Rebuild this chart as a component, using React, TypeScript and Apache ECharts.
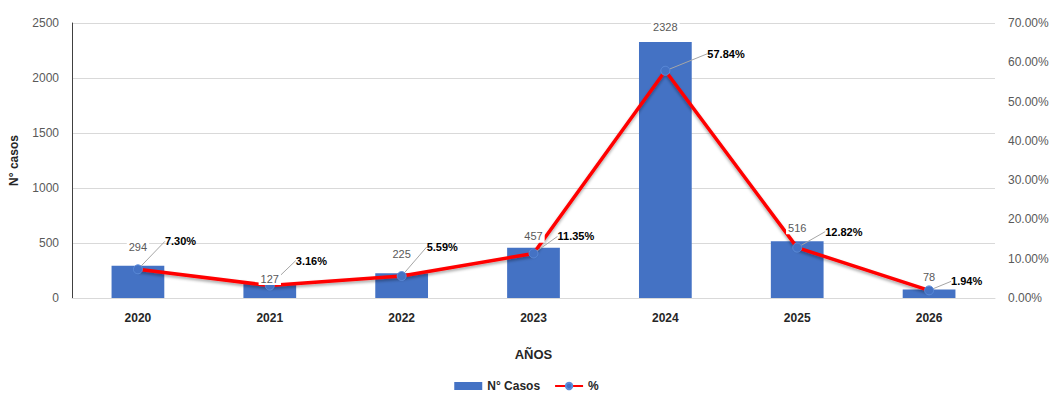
import React, { useEffect, useRef } from "react";
import * as echarts from "echarts";

const years = ["2020", "2021", "2022", "2023", "2024", "2025", "2026"];
const cases = [294, 127, 225, 457, 2328, 516, 78];
const percents = [7.3, 3.16, 5.59, 11.35, 57.84, 12.82, 1.94];
const leftTicks = { min: 0, max: 2500, interval: 500 };
const rightTicks = { min: 0, max: 70, interval: 10 };

// label nudges (style only)
const pctDx = [17, 16, 15, 14, 32, 18, 12];
const pctDy = [-28, -25, -29, -17, -17, -16, -9];
const barDy = [-7, 6, -8, 0, -3, -2, -1];

const FONT = "'Liberation Sans', 'Noto Sans', Arial, sans-serif";

export default function App() {
  const ref = useRef<HTMLDivElement>(null);
  useEffect(() => {
    if (!ref.current) return;
    const chart = echarts.init(ref.current, null, { renderer: "svg" });
    chart.setOption({
      animation: false,
      textStyle: { fontFamily: FONT },
      grid: { left: 70, right: 58, top: 23, bottom: 98, containLabel: false },
      legend: {
        data: [
          { name: "N° Casos", icon: "rect" },
          { name: "%" },
        ],
        top: 378,
        left: "center",
        padding: 2,
        itemWidth: 28,
        itemHeight: 8,
        itemGap: 14,
        textStyle: { fontSize: 12, color: "#262626", fontWeight: "bold", fontFamily: FONT },
      },
      xAxis: {
        type: "category",
        data: years,
        name: "AÑOS",
        nameLocation: "middle",
        nameGap: 50,
        nameTextStyle: { fontSize: 13, fontWeight: "bold", color: "#262626" },
        axisLine: { lineStyle: { color: "#D9D9D9" } },
        axisTick: { show: false },
        axisLabel: { fontSize: 12, fontWeight: "bold", color: "#262626", margin: 14 },
      },
      yAxis: [
        {
          type: "value",
          ...leftTicks,
          name: "N° casos",
          nameLocation: "middle",
          nameGap: 52,
          nameRotate: 90,
          nameTextStyle: { fontSize: 12, fontWeight: "bold", color: "#262626" },
          axisLine: { show: true, lineStyle: { color: "#404040", width: 1 } },
          axisTick: { show: false },
          axisLabel: { fontSize: 12, color: "#595959", margin: 13, formatter: (v: number) => String(v) },
          splitLine: { lineStyle: { color: "#D9D9D9" } },
        },
        {
          type: "value",
          ...rightTicks,
          position: "right",
          axisLine: { show: false },
          axisTick: { show: false },
          axisLabel: {
            fontSize: 12,
            color: "#595959",
            margin: 13,
            formatter: (v: number) => v.toFixed(2) + "%",
          },
          splitLine: { show: false },
        },
      ],
      series: [
        {
          name: "N° Casos",
          type: "bar",
          data: cases,
          barWidth: "40%",
          itemStyle: { color: "#4472C4" },
          z: 1,
        },
        {
          name: "%",
          type: "line",
          yAxisIndex: 1,
          data: percents,
          symbol: "circle",
          symbolSize: 9,
          itemStyle: { color: "#4472C4", borderColor: "#5B8BD9", borderWidth: 1 },
          lineStyle: {
            color: "#FF0000",
            width: 3.5,
            shadowBlur: 3,
            shadowColor: "rgba(0,0,0,0.35)",
            shadowOffsetY: 2,
          },
          z: 2,
          label: {
            show: true,
            position: "right",
            distance: 5,
            fontSize: 11,
            fontWeight: "bold",
            color: "#000",
            formatter: (p: any) => Number(p.value).toFixed(2) + "%",
          },
          labelLine: { show: true, lineStyle: { color: "#A6A6A6", width: 1 } },
          labelLayout: (p: any) => ({ dx: pctDx[p.dataIndex], dy: pctDy[p.dataIndex] }),
        },
        {
          name: "labels",
          type: "bar",
          data: cases,
          barWidth: "40%",
          barGap: "-100%",
          itemStyle: { color: "transparent" },
          silent: true,
          z: 5,
          label: {
            show: true,
            position: "top",
            distance: 5,
            fontSize: 11,
            color: "#595959",
            backgroundColor: "#FFFFFF",
            padding: [1, 2],
          },
          labelLayout: (p: any) => ({ dy: barDy[p.dataIndex] }),
        },
      ],
    });
    return () => chart.dispose();
  }, []);
  return (
    <div
      ref={ref}
      style={{ position: "absolute", left: 0, top: 0, width: 1053, height: 396, background: "#fff" }}
    />
  );
}
